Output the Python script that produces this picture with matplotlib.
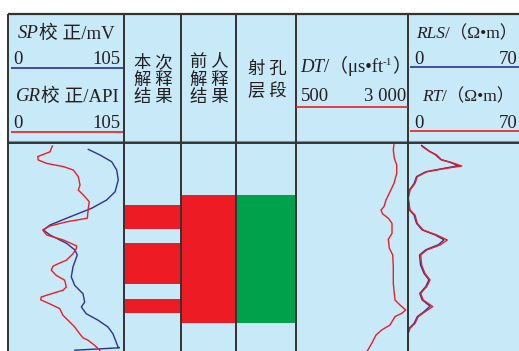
import matplotlib
matplotlib.use("Agg")
import matplotlib.pyplot as plt
from matplotlib.lines import Line2D
from matplotlib.patches import Rectangle

# ---------------- log data (depth in m, relative to top of section) ----------------
gr_depth = [0.75, 2.2, 3.4, 4.25, 5.1, 5.9, 6.75, 8.4, 10.5, 11.75, 13.0, 14.7, 16.3, 18.8,
            19.7, 20.75, 21.75, 23.0, 24.25, 25.75, 26.4, 27.7, 29.3, 30.2, 30.8, 31.8, 33.1,
            34.3, 36.0, 36.8, 37.7, 38.5, 39.2, 40.2, 41.4, 43.1, 44.3, 46.0, 47.7, 48.7, 49.3,
            50.6, 51.8, 52.25]
gr_api = [40.1, 38.0, 26.9, 27.4, 35.0, 50.1, 59.1, 63.6, 65.2, 63.6, 68.2, 73.6, 72.7, 71.8,
          53.1, 38.0, 31.4, 35.0, 50.1, 62.2, 61.8, 58.8, 52.8, 45.3, 40.7, 39.2, 43.7,
          51.3, 52.8, 49.8, 39.2, 30.1, 29.6, 37.7, 46.8, 49.8, 54.3, 60.4, 64.9, 67.9, 72.4,
          78.5, 83.0, 83.7]

sp_depth = [1.6, 3.0, 4.7, 6.75, 9.25, 12.2, 14.25, 16.3, 18.8, 20.5, 21.75, 23.0, 25.1, 26.75,
            28.0, 31.0, 33.5, 35.6, 37.7, 39.75, 41.0, 42.7, 44.3, 46.0, 47.7, 51.0, 51.2, 51.8]
sp_mv = [72.7, 83.3, 93.9, 98.4, 99.8, 96.9, 89.3, 75.8, 53.1, 38.0, 32.0, 38.0, 53.1, 60.6,
         62.7, 58.8, 57.3, 60.4, 67.9, 69.4, 66.4, 70.9, 81.5, 90.5, 95.0, 99.6, 100.8, 60.4]

dt_depth = [0.25, 1.75, 3.8, 5.5, 7.6, 10.1, 12.2, 14.25, 15.9, 16.75, 17.75, 18.8, 20.1, 22.6,
            24.1, 26.3, 28.0, 30.9, 35.1, 37.6, 39.25, 40.5, 41.75, 42.6, 43.4, 45.5, 46.75,
            48.0, 50.1, 52.0]
dt_val = [2687, 2672, 2694, 2748, 2748, 2687, 2598, 2509, 2464, 2397, 2435, 2560, 2643, 2643,
          2560, 2583, 2659, 2672, 2672, 2694, 2710, 2821, 2949, 2859, 2710, 2598, 2413,
          2286, 2190, 2091]

rt_depth = [0.9, 2.2, 3.0, 4.25, 4.9, 5.75, 6.3, 7.2, 8.4, 10.1, 11.75, 13.8, 16.75, 18.0, 20.1,
            21.75, 23.0, 24.25, 25.5, 26.75, 28.0, 30.5, 32.6, 34.25, 35.9, 37.6, 39.25, 40.9,
            42.2, 43.4, 45.1, 46.3, 47.6, 52.0]
rt_val = [9.0, 13.9, 18.1, 21.3, 27.6, 33.9, 24.4, 11.8, 5.9, 4.4, 1.3, 0.2, 1.3, 4.4, 5.9,
          9.6, 18.1, 24.8, 20.2, 11.8, 8.0, 8.6, 10.7, 13.9, 11.8, 8.0, 9.6, 15.6,
          10.7, 6.5, 4.4, 1.3, 0.2, 0.2]

rls_depth = [0.6, 2.0, 2.9, 4.1, 4.8, 5.7, 6.3, 7.2, 8.4, 10.1, 11.75, 13.8, 16.75, 18.0, 20.1,
             21.75, 23.0, 24.2, 25.4, 26.7, 28.0, 30.5, 32.6, 34.2, 35.9, 37.6, 39.2, 40.8,
             42.2, 43.4, 45.1, 46.3, 47.6, 52.0]
rls_val = [8.6, 13.3, 17.2, 20.5, 26.5, 31.7, 23.2, 11.2, 5.4, 3.9, 0.9, 0.0, 0.9, 3.8, 5.4,
           9.0, 17.2, 22.7, 19.3, 11.2, 7.3, 7.9, 10.1, 13.2, 11.2, 7.4, 8.9, 13.9,
           10.0, 5.9, 3.8, 0.8, 0.0, 0.0]

# interpreted intervals (top, bottom) in m
this_study = [(15.5, 21.5), (25.0, 35.25), (39.0, 42.5)]
previous = [(13.0, 45.0)]
perforated = [(13.0, 45.0)]

depth_range = (0.0, 52.0)
gr_scale = (0, 105)
sp_scale = (0, 105)
dt_scale = (500, 3000)
res_scale = (0, 70)

# ---------------- figure layout (pixel based) ----------------
W, H = 519, 351
fig = plt.figure(figsize=(W / 100, H / 100), dpi=100)
fig.patch.set_facecolor("white")

BG = "#C7E9F8"
RED = "#ED1C24"
BLUE = "#2E3192"
GREEN = "#00A14B"
DARK = "#333333"
INK = "#231F20"

def fx(x):
    return x / W

def fy(y):
    return 1 - y / H

cols = [8, 124, 181, 236, 296, 408, 519]
top, head_bot, bot = 14, 143, 351

fig.add_artist(Rectangle((fx(cols[0]), fy(bot)), fx(W - cols[0]), fy(top) - fy(bot),
                         transform=fig.transFigure, facecolor=BG, edgecolor="none", zorder=0))

def hline(y, x0, x1, color=DARK, lw=1.4, z=5):
    fig.add_artist(Line2D([fx(x0), fx(x1)], [fy(y), fy(y)], color=color, lw=lw, zorder=z,
                          transform=fig.transFigure, solid_capstyle="butt"))

def vline(x, y0, y1, color=DARK, lw=1.4, z=5):
    fig.add_artist(Line2D([fx(x), fx(x)], [fy(y0), fy(y1)], color=color, lw=lw, zorder=z,
                          transform=fig.transFigure, solid_capstyle="butt"))

hline(top, cols[0], W, lw=1.6)
hline(141.2, cols[0], W, color="#8a8a8a", lw=0.8)
hline(143.3, cols[0], W, lw=1.4)
for c in cols[:-1]:
    vline(c, top, bot)

# ---------------- track bodies ----------------
def track(x0, x1, xlim):
    ax = fig.add_axes([fx(x0), fy(bot), fx(x1 - x0), fy(head_bot) - fy(bot)])
    ax.set_xlim(*xlim)
    ax.set_ylim(depth_range[1], depth_range[0])
    ax.patch.set_alpha(0)
    ax.axis("off")
    return ax

ax1 = track(cols[0], cols[1], gr_scale)
ax1.plot(sp_mv, sp_depth, color=BLUE, lw=1.0)
ax1.plot(gr_api, gr_depth, color=RED, lw=1.0)

ax2 = track(cols[1], cols[2], (0, 1))
for t, b in this_study:
    ax2.axhspan(t, b, color=RED, lw=0)

ax3 = track(cols[2], cols[3], (0, 1))
for t, b in previous:
    ax3.axhspan(t, b, color=RED, lw=0)

ax4 = track(cols[3], cols[4], (0, 1))
for t, b in perforated:
    ax4.axhspan(t, b, color=GREEN, lw=0)

ax5 = track(cols[4], cols[5], dt_scale)
ax5.plot(dt_val, dt_depth, color=RED, lw=1.0)

ax6 = track(cols[5], cols[6], res_scale)
ax6.plot(rls_val, rls_depth, color=BLUE, lw=1.0, clip_on=False)
ax6.plot(rt_val, rt_depth, color=RED, lw=1.0, clip_on=False)

# ---------------- header text ----------------
FAM = ["Liberation Serif", "Noto Sans CJK SC", "DejaVu Serif"]
FS = 13.5
renderer = fig.canvas.get_renderer()

def rich(x, y, parts, ha="left"):
    """Lay out (text, size, italic, dy) pieces along one line starting/centred at pixel x."""
    arts = []
    for s, size, it, dy in parts:
        t = fig.text(0, fy(y + dy), s, fontsize=size, family=FAM,
                     style="italic" if it else "normal", va="baseline", ha="left",
                     color=INK, zorder=6)
        arts.append(t)
    widths = [a.get_window_extent(renderer).width for a in arts]
    total = sum(widths)
    if ha == "center":
        x = x - total / 2
    elif ha == "right":
        x = x - total
    for a, w in zip(arts, widths):
        a.set_x(fx(x))
        x += w

def plain(x, y, s, ha="left", size=FS):
    fig.text(fx(x), fy(y), s, fontsize=size, family=FAM, ha=ha, va="baseline",
             color=INK, zorder=6)

def cjk(x, y, s, size=12.5):
    fig.text(fx(x), fy(y), s, fontsize=size, family=["Noto Sans CJK SC"], ha="center",
             va="center", color=INK, zorder=6)

# GR / SP track
rich(66, 38.5, [("SP", FS, True, 0), ("校 正/mV", FS, False, 0)], ha="center")
plain(13, 64, "0")
plain(121, 64, "105", ha="right")
hline(68, 11, 123, color=BLUE, lw=1.2)
rich(67, 101.5, [("GR", FS, True, 0), ("校 正/API", FS, False, 0)], ha="center")
plain(13, 128, "0")
plain(121, 128, "105", ha="right")
hline(132, 11, 123, color=RED, lw=1.2)

# interpretation columns
for cx, lines in [(153, ["本 次", "解 释", "结 果"]), (209.5, ["前 人", "解 释", "结 果"])]:
    for yy, s in zip([62, 80, 97], lines):
        cjk(cx, yy, s)
cjk(267, 69, "射 孔")
cjk(267, 91, "层 段")

# DT track
rich(300, 71.5, [("DT", FS, True, 0), ("/（μs•ft", FS, False, 0),
                 ("-1", 8, False, -6.5), ("）", FS, False, 0)])
plain(301, 101, "500")
plain(406, 101, "3 000", ha="right")
hline(107, cols[4], cols[5], color=RED, lw=1.2)

# resistivity track
RS = 12.5
rich(416, 38.5, [("RLS", RS, True, 0), ("/（Ω•m）", RS, False, 0)])
plain(414, 63.5, "0")
plain(517, 63.5, "70", ha="right")
hline(67, 410, W, color=BLUE, lw=1.2)
rich(422, 101.5, [("RT", RS, True, 0), ("/（Ω•m）", RS, False, 0)])
plain(414, 127.5, "0")
plain(517, 127.5, "70", ha="right")
hline(131, 410, W, color=RED, lw=1.2)

fig.savefig("out.png", dpi=100, facecolor="white")
